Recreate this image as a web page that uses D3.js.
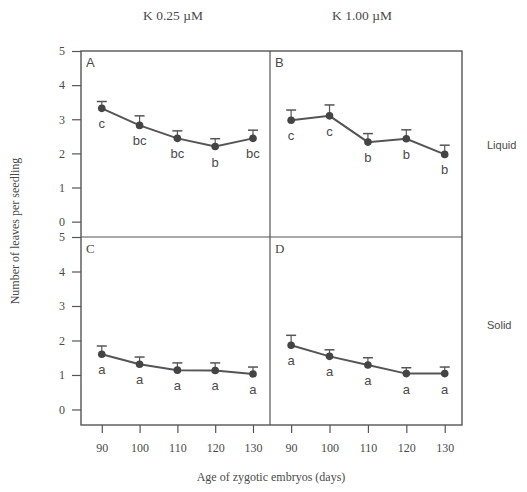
<!DOCTYPE html>
<html>
<head>
<meta charset="utf-8">
<script src="https://cdn.jsdelivr.net/npm/d3@7"></script>
<style>
  body { margin: 0; background: #fff; }
  text { fill: #4a4a4a; }
</style>
</head>
<body>
<svg id="chart" width="527" height="492"></svg>
<script>
const ages = [90, 100, 110, 120, 130];
const columnTitles = ["K 0.25 \u00b5M", "K 1.00 \u00b5M"];
const rowTitles = ["Liquid", "Solid"];
const panelLabels = ["A", "B", "C", "D"];
const yTicks = [0, 1, 2, 3, 4, 5];

// mean leaves per seedling, upper error
const meanA = [3.32, 2.82, 2.44, 2.2, 2.44];
const errA = [0.2, 0.28, 0.22, 0.23, 0.24];
const letA = ["c", "bc", "bc", "b", "bc"];
const meanB = [2.97, 3.1, 2.33, 2.43, 1.97];
const errB = [0.3, 0.32, 0.25, 0.26, 0.27];
const letB = ["c", "c", "b", "b", "b"];
const meanC = [1.6, 1.31, 1.14, 1.13, 1.03];
const errC = [0.24, 0.21, 0.21, 0.22, 0.2];
const letC = ["a", "a", "a", "a", "a"];
const meanD = [1.86, 1.54, 1.29, 1.04, 1.04];
const errD = [0.29, 0.19, 0.21, 0.17, 0.19];
const letD = ["a", "a", "a", "a", "a"];

const panels = [
  { row: 0, col: 0, mean: meanA, err: errA, letters: letA },
  { row: 0, col: 1, mean: meanB, err: errB, letters: letB },
  { row: 1, col: 0, mean: meanC, err: errC, letters: letC },
  { row: 1, col: 1, mean: meanD, err: errD, letters: letD }
];

const svg = d3.select("#chart");
const lineColor = "#555";
const colX = [[81, 270], [270, 462]];
const rowY = [[51, 237], [237, 425]];

// frame
svg.append("rect")
  .attr("x", 81).attr("y", 51)
  .attr("width", 462 - 81).attr("height", 425 - 51)
  .attr("fill", "none").attr("stroke", lineColor).attr("stroke-width", 1.4);
svg.append("line").attr("x1", 270).attr("x2", 270).attr("y1", 51).attr("y2", 425)
  .attr("stroke", lineColor).attr("stroke-width", 1.2);
svg.append("line").attr("x1", 81).attr("x2", 462).attr("y1", 237).attr("y2", 237)
  .attr("stroke", lineColor).attr("stroke-width", 1.2);

const xScales = colX.map(r => d3.scaleLinear().domain([84.5, 134.5]).range(r));
const yScales = rowY.map(r => d3.scaleLinear().domain([5, -0.45]).range(r));

// y axes
yScales.forEach(y => {
  const g = svg.append("g")
    .attr("transform", "translate(81,0)")
    .call(d3.axisLeft(y).tickValues(yTicks).tickSize(9).tickPadding(7).tickFormat(d3.format("d")));
  g.select(".domain").remove();
  g.selectAll("line").attr("stroke", lineColor).attr("stroke-width", 1.2);
  g.selectAll("text").style("font-family", "Liberation Serif").style("font-size", "12px").style("fill", "#4a4a4a");
});

// x axes
xScales.forEach(x => {
  const g = svg.append("g")
    .attr("transform", "translate(0,425)")
    .call(d3.axisBottom(x).tickValues(ages).tickSize(8).tickPadding(10));
  g.select(".domain").remove();
  g.selectAll("line").attr("stroke", lineColor).attr("stroke-width", 1.2);
  g.selectAll("text").style("font-family", "Liberation Serif").style("font-size", "12px").style("fill", "#4a4a4a");
});

const line = d3.line();

panels.forEach((p, i) => {
  const x = xScales[p.col], y = yScales[p.row];
  const pts = ages.map((a, j) => ({ age: a, mean: p.mean[j], err: p.err[j], letter: p.letters[j] }));
  const g = svg.append("g");

  // error bars (upper)
  g.selectAll(".eb").data(pts).enter().append("line")
    .attr("x1", d => x(d.age)).attr("x2", d => x(d.age))
    .attr("y1", d => y(d.mean)).attr("y2", d => y(d.mean + d.err))
    .attr("stroke", lineColor).attr("stroke-width", 1.2);
  g.selectAll(".cap").data(pts).enter().append("line")
    .attr("x1", d => x(d.age) - 5).attr("x2", d => x(d.age) + 5)
    .attr("y1", d => y(d.mean + d.err)).attr("y2", d => y(d.mean + d.err))
    .attr("stroke", lineColor).attr("stroke-width", 1.5);

  g.append("path")
    .attr("d", line(pts.map(d => [x(d.age), y(d.mean)])))
    .attr("fill", "none").attr("stroke", lineColor).attr("stroke-width", 2);

  g.selectAll("circle").data(pts).enter().append("circle")
    .attr("cx", d => x(d.age)).attr("cy", d => y(d.mean))
    .attr("r", 3.8).attr("fill", "#444");

  g.selectAll(".let").data(pts).enter().append("text")
    .attr("x", d => x(d.age)).attr("y", d => y(d.mean) + 20)
    .attr("text-anchor", "middle")
    .style("font-family", "Liberation Sans").style("font-size", "13px")
    .text(d => d.letter);

  svg.append("text")
    .attr("x", colX[p.col][0] + 5).attr("y", rowY[p.row][0] + 16)
    .style("font-family", p.row === 0 ? "Liberation Sans" : "Liberation Serif")
    .style("font-size", "13px")
    .text(panelLabels[i]);
});

// column titles
[173, 362].forEach((cx, i) => {
  svg.append("text").attr("x", cx).attr("y", 20).attr("text-anchor", "middle")
    .style("font-family", "Liberation Serif").style("font-size", "13.5px")
    .text(columnTitles[i]);
});

// row titles
[145, 325].forEach((cy, i) => {
  svg.append("text").attr("x", 487).attr("y", cy + 4)
    .style("font-family", "Liberation Sans").style("font-size", "11px")
    .text(rowTitles[i]);
});

// axis titles
svg.append("text").attr("x", 271).attr("y", 481).attr("text-anchor", "middle")
  .style("font-family", "Liberation Serif").style("font-size", "12px")
  .text("Age of zygotic embryos (days)");
svg.append("text")
  .attr("transform", "translate(19,231) rotate(-90)")
  .attr("text-anchor", "middle")
  .style("font-family", "Liberation Serif").style("font-size", "12px")
  .text("Number of leaves per seedling");
</script>
</body>
</html>
